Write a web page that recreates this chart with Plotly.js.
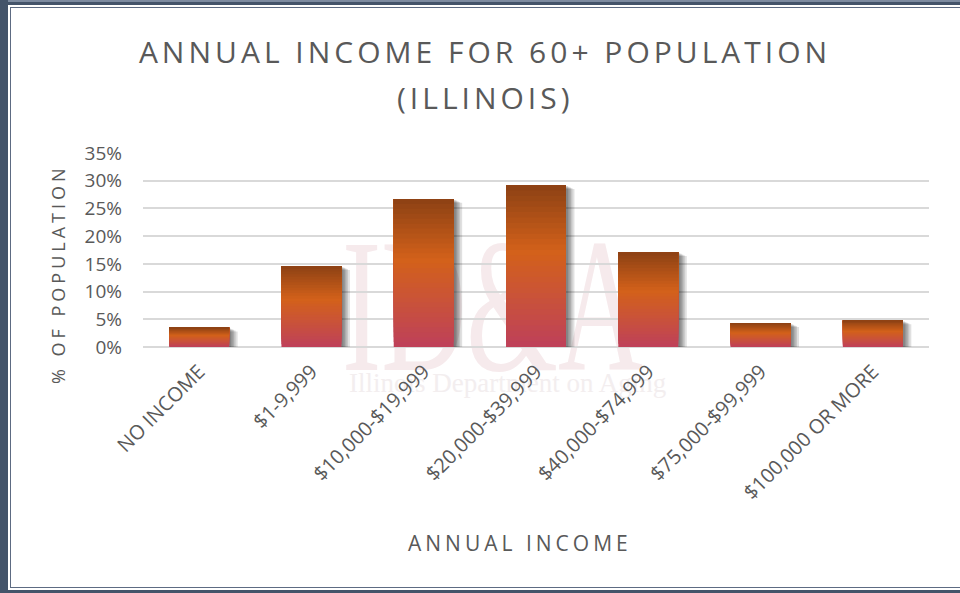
<!DOCTYPE html>
<html><head><meta charset="utf-8">
<script src="https://cdn.plot.ly/plotly-3.0.1.min.js"></script>
<style>
html,body{margin:0;padding:0;background:#fff;}
#wrap{position:relative;width:960px;height:593px;overflow:hidden;background:#fff;}
#wm{position:absolute;left:342px;top:211px;font-family:'Liberation Serif',serif;font-size:190px;line-height:1;color:#f6eaec;transform:scaleX(0.62);transform-origin:0 0;white-space:nowrap;}
#wm2{position:absolute;left:349px;top:370px;font-family:'Liberation Serif',serif;font-size:27px;line-height:1;color:#f3eeef;white-space:nowrap;}
#chart{position:absolute;left:0;top:0;width:960px;height:593px;}
.gtitle,.annotation-text{letter-spacing:4px;}
.bd{position:absolute;pointer-events:none;}
</style>
</head><body>
<div id="wrap">
  <div id="wm">ID&amp;A</div>
  <div id="wm2">Illinois Department on Aging</div>
  <div id="chart"></div>
  <div class="bd" style="left:0;top:0;width:960px;height:5px;background:linear-gradient(#7d8ba0 0,#7d8ba0 2px,#44546A 2px);"></div>
  <div class="bd" style="left:10px;top:7px;width:950px;height:1px;background:#5d6b82;"></div>
  <div class="bd" style="left:0;top:0;width:8px;height:593px;background:#44546A;"></div>
  <div class="bd" style="left:10px;top:7px;width:1px;height:581px;background:#5d6b82;"></div>
  <div class="bd" style="left:10px;top:587px;width:950px;height:1px;background:#5d6b82;"></div>
  <div class="bd" style="left:0;top:590px;width:960px;height:3px;background:#44546A;"></div>
</div>
<script>
// ---- data ----
const categories = ['NO INCOME', '$1-9,999', '$10,000-$19,999', '$20,000-$39,999', '$40,000-$74,999', '$75,000-$99,999', '$100,000 OR MORE'];
const values = [3.5, 14.6, 26.7, 29.2, 17.1, 4.3, 4.8];
const yTickVals = [0, 5, 10, 15, 20, 25, 30, 35];
const yTickText = ['0%', '5%', '10%', '15%', '20%', '25%', '30%', '35%'];
const chartTitle = 'ANNUAL INCOME FOR 60+ POPULATION';
const chartTitle2 = '(ILLINOIS)';
const xTitle = 'ANNUAL INCOME';
const yTitle = '% OF POPULATION';

// ---- styling ----
const TXT = '#595959';
const FONT = "'Open Sans', 'DejaVu Sans', sans-serif";
const BAR_W = 0.534;
const OFF = -BAR_W / 2;
const pxX = 1 / 112.3;     // category units per pixel
const pxY = 35 / 194;      // value units per pixel

// gradient stops, fraction from bottom -> rgb
const stops = [
  [0.00, [190, 64, 90]],
  [0.30, [201, 82, 58]],
  [0.59, [211, 97, 26]],
  [1.00, [140, 65, 20]]
];
function gradColor(f) {
  for (let i = 0; i < stops.length - 1; i++) {
    const a = stops[i], b = stops[i + 1];
    if (f >= a[0] && f <= b[0]) {
      const t = (f - a[0]) / (b[0] - a[0]);
      const c = a[1].map((v, j) => Math.round(v + (b[1][j] - v) * t));
      return 'rgb(' + c.join(',') + ')';
    }
  }
  return 'rgb(' + stops[stops.length - 1][1].join(',') + ')';
}

const traces = [];
// soft drop shadows
const shadowShifts = [2, 3.5, 5, 6.5, 8.5];
shadowShifts.forEach(s => {
  traces.push({
    type: 'bar', x: categories,
    y: values.map(v => Math.max(v - s * 0.45 * pxY, 0)),
    base: 0, width: BAR_W, offset: OFF + s * pxX,
    marker: {color: 'rgba(0,0,0,0.12)', line: {width: 0}},
    hoverinfo: 'skip', showlegend: false
  });
});
// gradient bars (bands overlaid from bottom to top)
const N = 30;
for (let k = 0; k < N; k++) {
  const f0 = k / N;
  traces.push({
    type: 'bar', x: categories,
    base: values.map(v => v * f0),
    y: values.map(v => v * (1 - f0)),
    width: BAR_W, offset: OFF,
    marker: {color: gradColor((k + 0.5) / N), line: {width: 0}},
    hoverinfo: k === 0 ? 'x+y' : 'skip',
    showlegend: false,
    name: 'Population'
  });
}

const plotTop = 153, plotBottom = 347, plotLeft = 143, plotRight = 929;
const py = p => (plotBottom - p) / (plotBottom - plotTop);
const px = p => (p - plotLeft) / (plotRight - plotLeft);

const layout = {
  width: 960, height: 593,
  paper_bgcolor: 'rgba(0,0,0,0)', plot_bgcolor: 'rgba(0,0,0,0)',
  margin: {l: plotLeft, r: 960 - plotRight, t: plotTop, b: 593 - plotBottom, pad: 0},
  barmode: 'overlay',
  showlegend: false,
  font: {family: FONT, color: TXT},
  title: {
    text: chartTitle,
    font: {family: FONT, size: 30, color: TXT},
    x: 485 / 960, xanchor: 'center', xref: 'container',
    y: 1 - 52 / 593, yanchor: 'middle', yref: 'container'
  },
  xaxis: {
    type: 'category',
    tickangle: -45,
    tickfont: {family: FONT, size: 20, color: TXT},
    showgrid: false, zeroline: false, showline: false,
    ticks: '', ticklabelstandoff: 8,
    fixedrange: true
  },
  yaxis: {
    range: [0, 35],
    tickvals: yTickVals, ticktext: yTickText,
    tickfont: {family: FONT, size: 19, color: TXT},
    showgrid: true, gridcolor: '#d9d9d9', gridwidth: 1.6,
    zeroline: true, zerolinecolor: '#d9d9d9', zerolinewidth: 1.6,
    showline: false, ticks: '', ticklabelstandoff: 20,
    fixedrange: true
  },
  annotations: [
    {text: chartTitle2, xref: 'paper', yref: 'paper', x: px(485), y: py(98),
     xanchor: 'center', yanchor: 'middle', showarrow: false,
     font: {family: FONT, size: 30, color: TXT}},
    {text: xTitle, xref: 'paper', yref: 'paper', x: px(520), y: py(543),
     xanchor: 'center', yanchor: 'middle', showarrow: false,
     font: {family: FONT, size: 21, color: TXT}},
    {text: yTitle, xref: 'paper', yref: 'paper', x: px(58), y: py(274),
     xanchor: 'center', yanchor: 'middle', showarrow: false, textangle: -90,
     font: {family: FONT, size: 18, color: TXT}}
  ]
};

Plotly.newPlot('chart', traces, layout, {displayModeBar: false, staticPlot: false});
</script>
</body></html>
